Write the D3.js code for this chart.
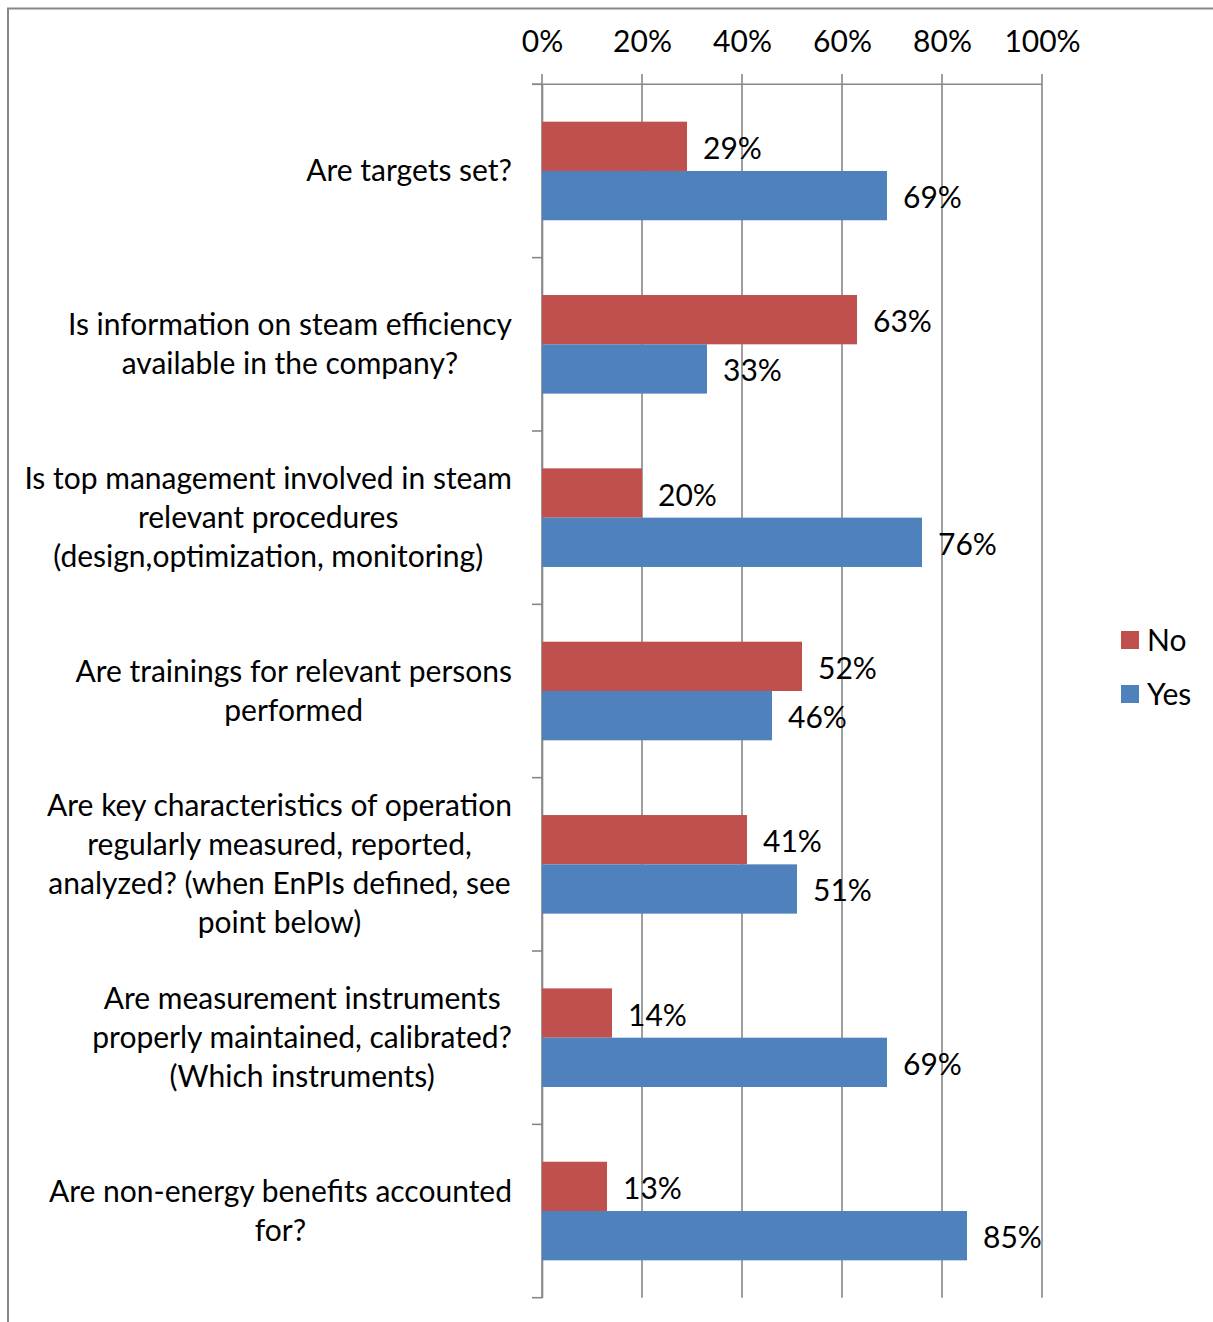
<!DOCTYPE html>
<html>
<head>
<meta charset="utf-8">
<script src="https://cdn.jsdelivr.net/npm/d3@7"></script>
<style>
  html, body { margin: 0; padding: 0; background: #fff; }
  svg { display: block; }
  text { font-family: Lato, "Open Sans", sans-serif; fill: #000; }
</style>
</head>
<body>
<div id="chart"></div>
<script>
// Survey questions, one array of wrapped lines per question
const categories = [
  ["Are targets set?"],
  ["Is information on steam efficiency", "available in the company?"],
  ["Is top management involved in steam", "relevant procedures", "(design,optimization, monitoring)"],
  ["Are trainings for relevant persons", "performed"],
  ["Are key characteristics of operation", "regularly measured, reported,", "analyzed? (when EnPIs defined, see", "point below)"],
  ["Are measurement instruments", "properly maintained, calibrated?", "(Which instruments)"],
  ["Are non-energy benefits accounted", "for?"]
];
const seriesNames = ["No", "Yes"];
const noValues = [29, 63, 20, 52, 41, 14, 13];
const yesValues = [69, 33, 76, 46, 51, 69, 85];
const tickValues = [0, 20, 40, 60, 80, 100];

const W = 1213, H = 1322;
const colors = { No: "#C0504D", Yes: "#4F81BD" };
const gridColor = "#878787";
const fontSize = 30;

const svg = d3.select("#chart").append("svg")
  .attr("width", W).attr("height", H);

// chart border (left and top edges visible)
svg.append("path")
  .attr("d", "M8,1322 V8.5 H1213")
  .attr("fill", "none").attr("stroke", gridColor).attr("stroke-width", 2);

const x = d3.scaleLinear().domain([0, 100]).range([542, 1042]);
const idx = d3.range(categories.length);
const y = d3.scaleBand().domain(idx).range([84.3, 1297.7]).padding(0);
const ySub = d3.scaleBand().domain(seriesNames).range([0, y.bandwidth()])
  .paddingInner(0).paddingOuter(0.758);

// vertical gridlines
svg.append("g").selectAll("line").data(tickValues).join("line")
  .attr("x1", d => x(d)).attr("x2", d => x(d))
  .attr("y1", 74).attr("y2", 1297.7)
  .attr("stroke", gridColor).attr("stroke-width", 1.6);

// top value axis
const xAxis = d3.axisTop(x).tickValues(tickValues).tickFormat(d => d + "%")
  .tickSize(0).tickPadding(32);
const gx = svg.append("g").attr("transform", "translate(0,84.3)").call(xAxis);
gx.select(".domain").remove();
gx.selectAll("text").attr("font-size", fontSize).attr("font-family", null)
  .attr("fill", "#000").attr("dy", "0");

svg.append("line")
  .attr("x1", 532).attr("x2", 1042).attr("y1", 84.3).attr("y2", 84.3)
  .attr("stroke", gridColor).attr("stroke-width", 1.6);

// left category axis with tick marks on band boundaries
const yAxis = d3.axisLeft(y).tickFormat("").tickSize(0);
const gy = svg.append("g").attr("transform", "translate(542,0)").call(yAxis);
gy.select(".domain").attr("stroke", gridColor).attr("stroke-width", 1.6);
gy.selectAll(".tick").remove();
svg.append("g").selectAll("line").data(d3.range(categories.length + 1)).join("line")
  .attr("x1", 532).attr("x2", 542)
  .attr("y1", i => y.range()[0] + i * y.step())
  .attr("y2", i => y.range()[0] + i * y.step())
  .attr("stroke", gridColor).attr("stroke-width", 1.6);

// bars
const rows = idx.map(i => ({ i, No: noValues[i], Yes: yesValues[i] }));
const groups = svg.append("g").selectAll("g").data(rows).join("g")
  .attr("transform", d => `translate(0,${y(d.i)})`);

groups.selectAll("rect").data(d => seriesNames.map(k => ({ k, v: d[k] }))).join("rect")
  .attr("x", x(0))
  .attr("y", d => ySub(d.k))
  .attr("width", d => x(d.v) - x(0))
  .attr("height", ySub.bandwidth())
  .attr("fill", d => colors[d.k]);

// value labels
groups.selectAll("text.val").data(d => seriesNames.map(k => ({ k, v: d[k] }))).join("text")
  .attr("class", "val")
  .attr("x", d => x(d.v) + 16)
  .attr("y", d => ySub(d.k) + ySub.bandwidth() / 2 + 2)
  .attr("dy", "0.35em")
  .attr("font-size", fontSize)
  .text(d => d.v + "%");

// category labels: centred line block whose widest line ends at the right edge
const labelRight = 512;
const lineH = 39;
categories.forEach((lines, i) => {
  const cy = y(i) + y.bandwidth() / 2;
  const t = svg.append("text").attr("font-size", fontSize).attr("text-anchor", "middle");
  lines.forEach((ln, j) => {
    t.append("tspan").attr("x", 0)
      .attr("y", cy + (j - (lines.length - 1) / 2) * lineH)
      .attr("dy", "0.35em").text(ln);
  });
  let maxW = 0;
  t.selectAll("tspan").each(function () { maxW = Math.max(maxW, this.getComputedTextLength()); });
  t.selectAll("tspan").attr("x", labelRight - maxW / 2);
});

// legend
const legend = svg.append("g").selectAll("g").data(seriesNames).join("g")
  .attr("transform", (d, i) => `translate(1121,${640 + i * 54})`);
legend.append("rect").attr("x", 0).attr("y", -9).attr("width", 18).attr("height", 18)
  .attr("fill", d => colors[d]);
legend.append("text").attr("x", 26).attr("dy", "0.35em").attr("font-size", fontSize)
  .text(d => d);
</script>
</body>
</html>
